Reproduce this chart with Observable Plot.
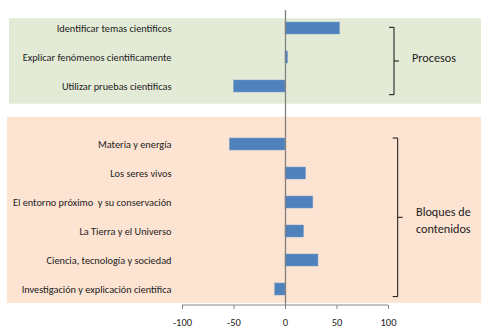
<!DOCTYPE html>
<html>
<head>
<meta charset="utf-8">
<script src="https://cdn.jsdelivr.net/npm/d3@7"></script>
<script src="https://cdn.jsdelivr.net/npm/@observablehq/plot@0.6"></script>
<style>
  html, body { margin: 0; padding: 0; background: #fff; }
  #chart svg { display: block; }
</style>
</head>
<body>
<div id="chart"></div>
<script>
// ---- data ----
const procesos = ["Identificar temas científicos", "Explicar fenómenos científicamente", "Utilizar pruebas científicas"];
const procesosValues = [53, 2.5, -50];
const bloques = ["Materia y energía", "Los seres vivos", "El entorno próximo  y su conservación", "La Tierra y el Universo", "Ciencia, tecnología y sociedad", "Investigación y explicación científica"];
const bloquesValues = [-54, 20, 27, 18, 32, -10];
const xTicks = [-100, -50, 0, 50, 100];
const groupLabels = [["Procesos"], ["Bloques de", "contenidos"]];

const GAP = "\u2009";
const yDomain = [...procesos, GAP, ...bloques];
const rows = [
  ...procesos.map((label, i) => ({label, value: procesosValues[i]})),
  ...bloques.map((label, i) => ({label, value: bloquesValues[i]}))
];

const FONT = "Carlito, Calibri, Lato, 'Open Sans', sans-serif";
const W = 482, H = 329;

function center(y, c) {
  return y(c) + (y.bandwidth ? y.bandwidth() / 2 : 0);
}

// background panels behind each group
function panels(index, scales, values, dims) {
  const {y} = scales;
  const g = d3.create("svg:g");
  const groups = [
    {cats: procesos, fill: "#e3ebd6", top: 9.7, bottom: 17.7, left: 9},
    {cats: bloques, fill: "#fde3d1", top: 27.3, bottom: 13.8, left: 7}
  ];
  for (const grp of groups) {
    const y0 = center(y, grp.cats[0]) - grp.top;
    const y1 = center(y, grp.cats[grp.cats.length - 1]) + grp.bottom;
    g.append("rect")
      .attr("x", grp.left).attr("y", y0)
      .attr("width", dims.width - 1 - grp.left).attr("height", y1 - y0)
      .attr("fill", grp.fill);
  }
  return g.node();
}

// horizontal axis line
function axisLine(index, scales, values, dims) {
  const {x} = scales;
  const yb = dims.height - dims.marginBottom;
  return d3.create("svg:line")
    .attr("x1", x(xTicks[0])).attr("x2", x(xTicks[xTicks.length - 1]))
    .attr("y1", yb).attr("y2", yb)
    .attr("stroke", "#868686").attr("stroke-width", 1)
    .node();
}

// brackets and group labels
function brackets(index, scales, values, dims) {
  const {x, y} = scales;
  const g = d3.create("svg:g");
  const right = x(xTicks[xTicks.length - 1]);
  const specs = [
    {cats: procesos, bx: right + 6, top: -0.7, bottom: 8.7, label: groupLabels[0], lx: right + 24, ldy: -3},
    {cats: bloques, bx: right + 9.7, top: -6, bottom: 7.6, label: groupLabels[1], lx: right + 28, ldy: 3}
  ];
  for (const s of specs) {
    const y0 = center(y, s.cats[0]) + s.top;
    const y1 = center(y, s.cats[s.cats.length - 1]) + s.bottom;
    const ym = (y0 + y1) / 2;
    g.append("path")
      .attr("d", `M${s.bx - 5},${y0}H${s.bx}V${y1}H${s.bx - 5}M${s.bx},${ym}H${s.bx + 5}`)
      .attr("fill", "none").attr("stroke", "#111").attr("stroke-width", 1);
    const n = s.label.length;
    const lh = 16.5;
    s.label.forEach((t, i) => {
      g.append("text")
        .attr("x", s.lx)
        .attr("y", ym + s.ldy + (i - (n - 1) / 2) * lh)
        .attr("dy", "0.35em")
        .attr("text-anchor", "start")
        .attr("font-family", FONT)
        .attr("font-size", 12.2)
        .attr("fill", "#222")
        .text(t);
    });
  }
  return g.node();
}

const chart = Plot.plot({
  width: W,
  height: H,
  marginLeft: 0,
  marginRight: 0,
  marginTop: 10,
  marginBottom: 24,
  style: {fontFamily: FONT, background: "transparent", overflow: "visible"},
  x: {domain: [xTicks[0], xTicks[xTicks.length - 1]], range: [182, 388]},
  y: {domain: yDomain, range: [11, 305], paddingInner: 0.59, paddingOuter: 0.295, axis: null},
  marks: [
    panels,
    Plot.barX(rows, {x: "value", y: "label", fill: "#4f81bd", stroke: "#7a9fd0", strokeWidth: 0.5}),
    Plot.ruleX([0], {stroke: "#808080", strokeWidth: 1.3}),
    axisLine,
    Plot.axisX({ticks: xTicks, tickSize: 4, tickPadding: 9, stroke: "#868686", fill: "#222", fontSize: 10.5, tickFormat: d => String(d), label: null}),
    Plot.text(rows, {y: "label", text: "label", frameAnchor: "left", dx: 171, textAnchor: "end", fontSize: 10.3, fill: "#222"}),
    brackets
  ]
});

document.getElementById("chart").appendChild(chart);
</script>
</body>
</html>
